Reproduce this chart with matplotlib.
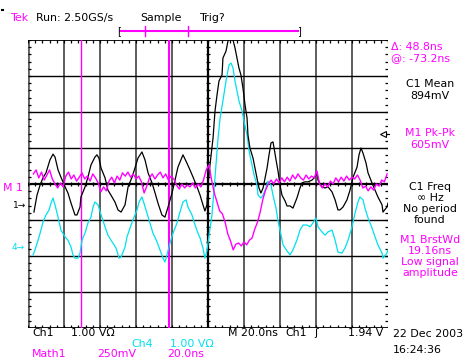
import numpy as np
import matplotlib
matplotlib.use("Agg")
import matplotlib.pyplot as plt
from matplotlib.lines import Line2D

W, H = 463, 359

# Channel 1 (black) record: time in ns, amplitude in screen divisions
ch1_t = [-96.7, -95.0, -93.3, -91.7, -90.0, -87.8, -86.1, -85.0, -83.3, -81.7,
         -79.4, -77.8, -76.1, -73.9, -72.8, -71.1, -70.6, -68.3, -66.7, -65.0,
         -62.8, -61.7, -60.6, -59.4, -57.2, -55.6, -53.9, -51.7, -50.0, -48.3,
         -46.1, -44.4, -42.2, -40.6, -38.9, -36.7, -35.0, -33.3, -31.1, -29.4,
         -27.8, -25.6, -23.9, -22.2, -20.0, -18.3, -16.7, -14.4, -13.9, -11.7,
         -10.0, -8.3, -6.1, -4.4, -2.8, -1.7, -0.6, 0.0, 1.1, 2.8,
         3.9, 5.0, 6.1, 7.8, 8.3, 10.0, 11.1, 12.2, 13.9, 15.0,
         16.1, 17.2, 18.3, 19.4, 20.6, 21.7, 22.2, 23.3, 25.0, 26.1,
         27.2, 28.3, 29.4, 30.6, 31.7, 32.8, 33.9, 35.0, 36.1, 36.7,
         37.8, 38.9, 40.0, 41.1, 42.8, 43.9, 45.6, 47.2, 49.4, 51.1,
         52.2, 53.9, 55.6, 57.8, 59.4, 60.6, 61.1, 63.3, 65.0, 66.7,
         68.9, 70.6, 72.2, 73.3, 75.0, 77.2, 78.9, 80.6, 82.8, 83.9,
         85.0, 86.1, 87.8, 88.9, 91.1, 92.8, 94.4, 96.7, 97.2, 99.4,
         100.0]
ch1_v = [-0.78, -0.31, -0.03, 0.17, 0.31, 0.67, 0.83, 0.75, 0.39, 0.19,
         -0.08, -0.25, -0.53, -0.86, -0.86, -0.64, -0.36, -0.08, 0.19, 0.53,
         0.75, 0.81, 0.72, 0.44, 0.17, -0.17, -0.31, -0.50, -0.72, -0.78,
         -0.58, -0.08, 0.19, 0.44, 0.72, 0.89, 0.67, 0.31, 0.03, -0.25,
         -0.53, -0.86, -0.92, -0.64, -0.25, 0.11, 0.47, 0.75, 0.81, 0.58,
         0.39, 0.19, -0.08, -0.31, -0.58, -0.75, -0.58, -0.03, 0.53, 1.28,
         2.03, 2.47, 2.86, 3.03, 3.50, 3.69, 3.97, 4.06, 4.00, 3.78,
         3.50, 3.22, 3.03, 2.67, 2.19, 1.83, 1.36, 1.00, 0.72, 0.44,
         0.17, -0.11, -0.25, -0.11, 0.17, 0.44, 0.81, 1.14, 1.17, 1.00,
         0.67, 0.36, -0.03, -0.31, -0.47, -0.61, -0.61, -0.67, -0.39, -0.11,
         0.03, 0.06, 0.06, 0.11, 0.19, 0.33, 0.11, -0.08, -0.11, -0.08,
         -0.22, -0.44, -0.72, -0.72, -0.64, -0.44, -0.17, 0.19, 0.47, 0.81,
         1.00, 0.86, 0.58, 0.31, 0.03, -0.17, -0.36, -0.58, -0.78, -0.64,
         -0.53]

# Channel 4 (cyan) record
ch4_t = [-97.2, -96.1, -94.4, -92.8, -91.7, -90.0, -88.3, -87.2, -86.1, -85.0,
         -83.3, -81.7, -79.4, -77.8, -76.1, -75.0, -73.9, -72.2, -71.1, -70.0,
         -68.3, -66.7, -65.0, -63.9, -62.8, -61.1, -59.4, -57.2, -55.6, -53.9,
         -52.2, -51.1, -49.4, -48.3, -46.1, -45.0, -43.3, -41.7, -39.4, -38.3,
         -36.7, -35.6, -33.9, -32.2, -30.6, -28.3, -26.7, -25.0, -23.9, -22.8,
         -21.1, -19.4, -17.2, -15.6, -13.9, -12.2, -11.1, -8.9, -7.2, -5.6,
         -4.4, -2.8, -1.7, -0.6, 0.6, 2.2, 3.3, 4.4, 5.6, 6.7,
         8.3, 9.4, 10.6, 11.7, 12.8, 13.9, 15.0, 16.1, 17.2, 18.9,
         20.0, 21.7, 22.8, 24.4, 25.6, 27.2, 27.8, 29.4, 30.6, 32.2,
         33.3, 35.0, 36.1, 37.8, 38.9, 40.6, 41.7, 43.9, 45.6, 47.2,
         49.4, 51.1, 52.8, 55.0, 56.7, 58.3, 60.0, 61.1, 63.3, 65.0,
         66.7, 68.9, 70.6, 72.2, 74.4, 76.1, 77.8, 80.0, 81.7, 83.3,
         84.4, 86.1, 87.2, 88.9, 91.1, 92.8, 94.4, 96.7, 97.2, 99.4,
         100.0]
ch4_v = [-1.97, -1.83, -1.56, -1.28, -1.06, -0.86, -0.72, -0.53, -0.39, -0.58,
         -0.92, -1.28, -1.47, -1.56, -1.75, -1.97, -2.06, -2.06, -1.92, -1.56,
         -1.36, -1.08, -0.92, -0.64, -0.50, -0.58, -0.86, -1.19, -1.42, -1.56,
         -1.69, -1.78, -2.06, -2.03, -1.75, -1.47, -1.22, -1.00, -0.72, -0.50,
         -0.36, -0.53, -0.81, -1.08, -1.36, -1.61, -1.83, -2.06, -2.17, -1.97,
         -1.64, -1.36, -1.08, -0.78, -0.50, -0.44, -0.64, -0.86, -1.14, -1.36,
         -1.50, -1.78, -2.06, -1.86, -1.42, -0.86, -0.19, 0.53, 1.28, 1.83,
         2.31, 2.67, 3.03, 3.31, 3.36, 3.22, 2.86, 2.58, 2.31, 2.03,
         1.75, 1.36, 0.92, 0.53, 0.25, -0.03, -0.31, -0.39, -0.31, -0.11,
         0.08, -0.03, -0.31, -0.67, -1.03, -1.42, -1.69, -1.86, -1.97, -1.83,
         -1.56, -1.28, -1.14, -1.14, -1.19, -1.08, -0.94, -1.19, -1.33, -1.42,
         -1.33, -1.28, -1.56, -1.89, -1.92, -1.78, -1.56, -1.19, -0.81, -0.50,
         -0.36, -0.44, -0.67, -0.94, -1.22, -1.47, -1.69, -1.92, -2.06, -1.92,
         -1.83]

# Math1 (magenta) record: uniform sample interval
m1_t0 = -97.0
m1_dt = 1.5
m1_v = [0.28, 0.39, 0.17, 0.33, 0.11, 0.25, 0.39, 0.14, 0.00, -0.11,
        0.03, -0.08, 0.22, 0.33, 0.14, 0.25, 0.08, 0.19, 0.31, 0.14,
        0.22, 0.08, 0.28, 0.17, 0.03, -0.22, -0.08, -0.19, 0.08, 0.19,
        0.03, 0.22, 0.11, 0.31, 0.22, 0.33, 0.19, 0.28, 0.14, 0.22,
        0.06, -0.25, -0.06, 0.17, 0.28, 0.14, 0.25, 0.33, 0.17, 0.28,
        0.11, 0.22, 0.14, -0.03, -0.14, 0.00, -0.11, -0.03, -0.08, 0.03,
        -0.11, 0.00, -0.08, 0.11, 0.39, 0.53, 0.11, -0.25, -0.50, -0.75,
        -0.83, -1.06, -1.39, -1.58, -1.83, -1.67, -1.64, -1.72, -1.61, -1.69,
        -1.56, -1.50, -1.25, -1.06, -0.78, -0.42, -0.17, 0.00, 0.11, 0.00,
        0.14, 0.03, 0.17, 0.06, 0.19, 0.08, 0.25, 0.14, 0.28, 0.17,
        0.11, 0.25, 0.14, 0.22, 0.17, 0.36, 0.00, -0.11, 0.00, -0.08,
        0.08, 0.00, 0.17, 0.06, 0.19, 0.08, 0.22, 0.11, 0.19, 0.14,
        0.25, 0.11, -0.11, -0.06, -0.19, -0.08, -0.17, 0.00, -0.06, 0.11,
        0.06, 0.28]
m1_t = m1_t0 + m1_dt * np.arange(len(m1_v))

# Cursor readout
cursor_t = -70.6
cursor_delta = 48.8

MAG = "#ff00ff"
CYAN = "#00e0ee"

fig = plt.figure(figsize=(W / 100, H / 100), dpi=100)
fig.patch.set_facecolor("white")


def fx(px):
    return px / W


def fy(py):
    return 1 - py / H


ax = fig.add_axes([fx(28), fy(328), 360 / W, 288 / H])
ax.set_xlim(-100, 100)
ax.set_ylim(-4, 4)
ax.axis("off")

# graticule
for x in range(-80, 100, 20):
    if x != 0:
        ax.axvline(x, color="#505050", lw=1.3, zorder=1)
for y in range(-3, 4):
    if y != 0:
        ax.axhline(y, color="black", lw=1.0, zorder=1)
ax.axvline(0, color="black", lw=1.6, zorder=1)
ax.axhline(0, color="black", lw=1.6, zorder=1)
ax.axvline(-100, color="#606060", lw=2.0, zorder=1)
ax.axhline(4, color="black", lw=1.3, zorder=1)
ax.axhline(-4, color="black", lw=1.3, zorder=1)

xt = np.arange(-100, 100.01, 4)
yt = np.arange(-4, 4.01, 0.2)
tk = dict(color="black", lw=0.9, zorder=1)
ax.vlines(xt, -0.06, 0.06, **tk)
ax.hlines(yt, -1.1, 1.1, **tk)
ax.vlines(xt, 4 - 0.09, 4, **tk)
ax.vlines(xt, -4, -4 + 0.09, **tk)
ax.hlines(yt, -100, -98.4, **tk)
ax.hlines(yt, 98.4, 100, **tk)

# cursors
ax.axvline(cursor_t, color=MAG, lw=1.0, zorder=2)
ax.axvline(cursor_t + cursor_delta, color=MAG, lw=1.5, zorder=2)

# waveforms
ax.plot(ch4_t, ch4_v, color=CYAN, lw=0.9, zorder=3)
ax.plot(ch1_t, ch1_v, color="black", lw=0.9, zorder=4)
ax.plot(m1_t, m1_v, color=MAG, lw=1.0, zorder=5)

FS = 7.9


def txt(x, y, s, color="black", ha="left", fs=FS):
    fig.text(fx(x), fy(y), s, color=color, ha=ha, va="center",
             fontsize=fs, family="DejaVu Sans")


# header
fig.add_artist(Line2D([fx(1.5), fx(3)], [fy(10), fy(10)], color="black", lw=1.5))
txt(11, 18, "Tek", MAG)
txt(36, 18, "Run: 2.50GS/s")
txt(140, 18, "Sample")
txt(200, 18, "Trig?")
fig.add_artist(Line2D([fx(120), fx(298)], [fy(31), fy(31)], color=MAG, lw=1.5))
for px in (145, 188):
    fig.add_artist(Line2D([fx(px), fx(px)], [fy(26), fy(36)], color=MAG, lw=1.0))
txt(119, 31, "[", fs=7, ha="center")
txt(299, 31, "]", fs=7, ha="center")

# channel markers
txt(3, 188, "M 1", MAG)
txt(13, 205, "1\u2192", fs=6.5)
txt(12, 247, "4\u2192", CYAN, fs=6.5)

# trigger level indicator on the right edge
fig.add_artist(Line2D([fx(384), fx(389)], [fy(134), fy(134)], color="black", lw=0.8))
fig.add_artist(Line2D([fx(383)], [fy(134)], marker="<", markersize=4.5,
                      markerfacecolor="white", markeredgecolor="black",
                      markeredgewidth=0.8, linestyle="none"))

# measurements
txt(391, 47, "\u0394: 48.8ns", MAG)
txt(391, 58, "@: -73.2ns", MAG)
col = 430
txt(col, 84, "C1 Mean", ha="center")
txt(col, 96, "894mV", ha="center")
txt(col, 133, "M1 Pk-Pk", MAG, ha="center")
txt(col, 145, "605mV", MAG, ha="center")
txt(col, 187, "C1 Freq", ha="center")
txt(col, 198, "\u221e Hz", ha="center")
txt(col, 209, "No period", ha="center")
txt(col, 220, "found", ha="center")
txt(col, 240, "M1 BrstWd", MAG, ha="center")
txt(col, 251, "19.16ns", MAG, ha="center")
txt(col, 262, "Low signal", MAG, ha="center")
txt(col, 273, "amplitude", MAG, ha="center")

# bottom status
txt(32, 333, "Ch1")
txt(71, 333, "1.00 V\u03a9")
txt(131, 344, "Ch4", CYAN)
txt(170, 344, "1.00 V\u03a9", CYAN)
txt(32, 354, "Math1", MAG)
txt(97, 354, "250mV", MAG)
txt(167, 354, "20.0ns", MAG)
txt(228, 333, "M 20.0ns")
txt(285, 333, "Ch1")
txt(314, 333, "\u0283")
txt(348, 333, "1.94 V")
txt(393, 334, "22 Dec 2003")
txt(393, 350, "16:24:36")

fig.savefig("out.png", dpi=100)
